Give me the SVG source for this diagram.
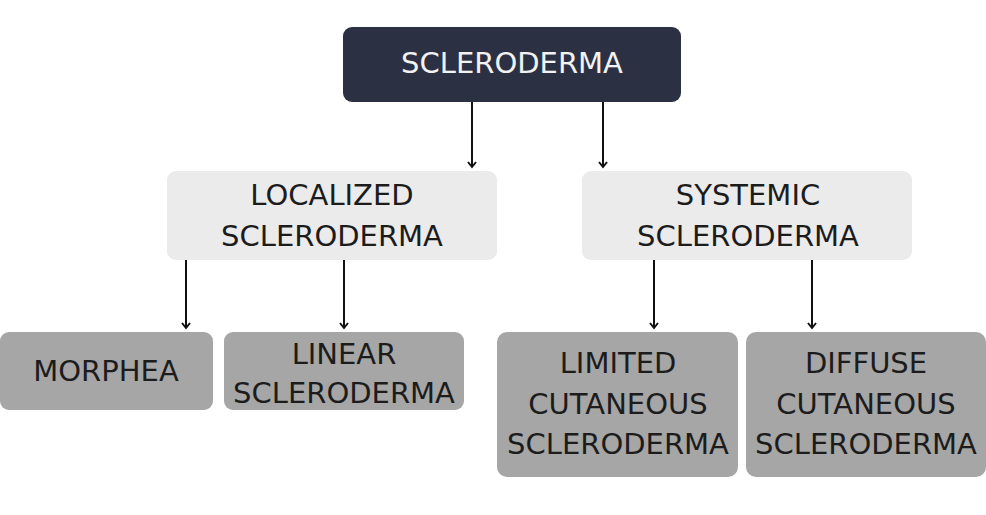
<svg xmlns="http://www.w3.org/2000/svg" width="986" height="515" viewBox="0 0 986 515">
  <style>
    .lbl { font-family: "DejaVu Sans", "Liberation Sans", sans-serif; font-size: 29px; text-anchor: middle; fill: #1c1c1c; }
    .root-box { fill: #2b3142; }
    .mid-box { fill: #ebebeb; }
    .leaf-box { fill: #a6a6a6; }
    .root-lbl { fill: #f2f2f2; }
    .edge { stroke: #111; stroke-width: 2; fill: none; marker-end: url(#head); }
  </style>
  <defs>
    <!-- small chevron head, drawn along +x so orient="auto" turns it with the line -->
    <marker id="head" viewBox="0 0 10 10" refX="8" refY="5" markerWidth="10" markerHeight="10" markerUnits="userSpaceOnUse" orient="auto">
      <path d="M3,1 L8,5 L3,9" fill="none" stroke="#111" stroke-width="2"/>
    </marker>
  </defs>
  <rect width="986" height="515" fill="#ffffff"/>

  <g id="connectors">
    <line class="edge" x1="472" y1="102" x2="472" y2="167"/>
    <line class="edge" x1="603" y1="102" x2="603" y2="167"/>
    <line class="edge" x1="186" y1="260" x2="186" y2="328"/>
    <line class="edge" x1="344" y1="260" x2="344" y2="328"/>
    <line class="edge" x1="654" y1="260" x2="654" y2="328"/>
    <line class="edge" x1="812" y1="260" x2="812" y2="328"/>
  </g>

  <g id="scleroderma">
    <rect class="root-box" x="343" y="27" width="338" height="75" rx="9"/>
    <text class="lbl root-lbl" x="512" y="73">SCLERODERMA</text>
  </g>

  <g id="localized">
    <rect class="mid-box" x="167" y="171" width="330" height="89" rx="9"/>
    <text class="lbl" x="332" y="205">LOCALIZED</text>
    <text class="lbl" x="332" y="246">SCLERODERMA</text>
  </g>

  <g id="systemic">
    <rect class="mid-box" x="582" y="171" width="330" height="89" rx="9"/>
    <text class="lbl" x="748" y="205">SYSTEMIC</text>
    <text class="lbl" x="748" y="246">SCLERODERMA</text>
  </g>

  <g id="morphea">
    <rect class="leaf-box" x="0" y="332" width="213" height="78" rx="9"/>
    <text class="lbl" x="106" y="381">MORPHEA</text>
  </g>

  <g id="linear">
    <rect class="leaf-box" x="224" y="332" width="240" height="78" rx="9"/>
    <text class="lbl" x="344" y="364">LINEAR</text>
    <text class="lbl" x="344" y="403">SCLERODERMA</text>
  </g>

  <g id="limited">
    <rect class="leaf-box" x="497" y="332" width="241" height="145" rx="10"/>
    <text class="lbl" x="618" y="373">LIMITED</text>
    <text class="lbl" x="618" y="414">CUTANEOUS</text>
    <text class="lbl" x="618" y="454">SCLERODERMA</text>
  </g>

  <g id="diffuse">
    <rect class="leaf-box" x="746" y="332" width="240" height="145" rx="10"/>
    <text class="lbl" x="866" y="373">DIFFUSE</text>
    <text class="lbl" x="866" y="414">CUTANEOUS</text>
    <text class="lbl" x="866" y="454">SCLERODERMA</text>
  </g>
</svg>
